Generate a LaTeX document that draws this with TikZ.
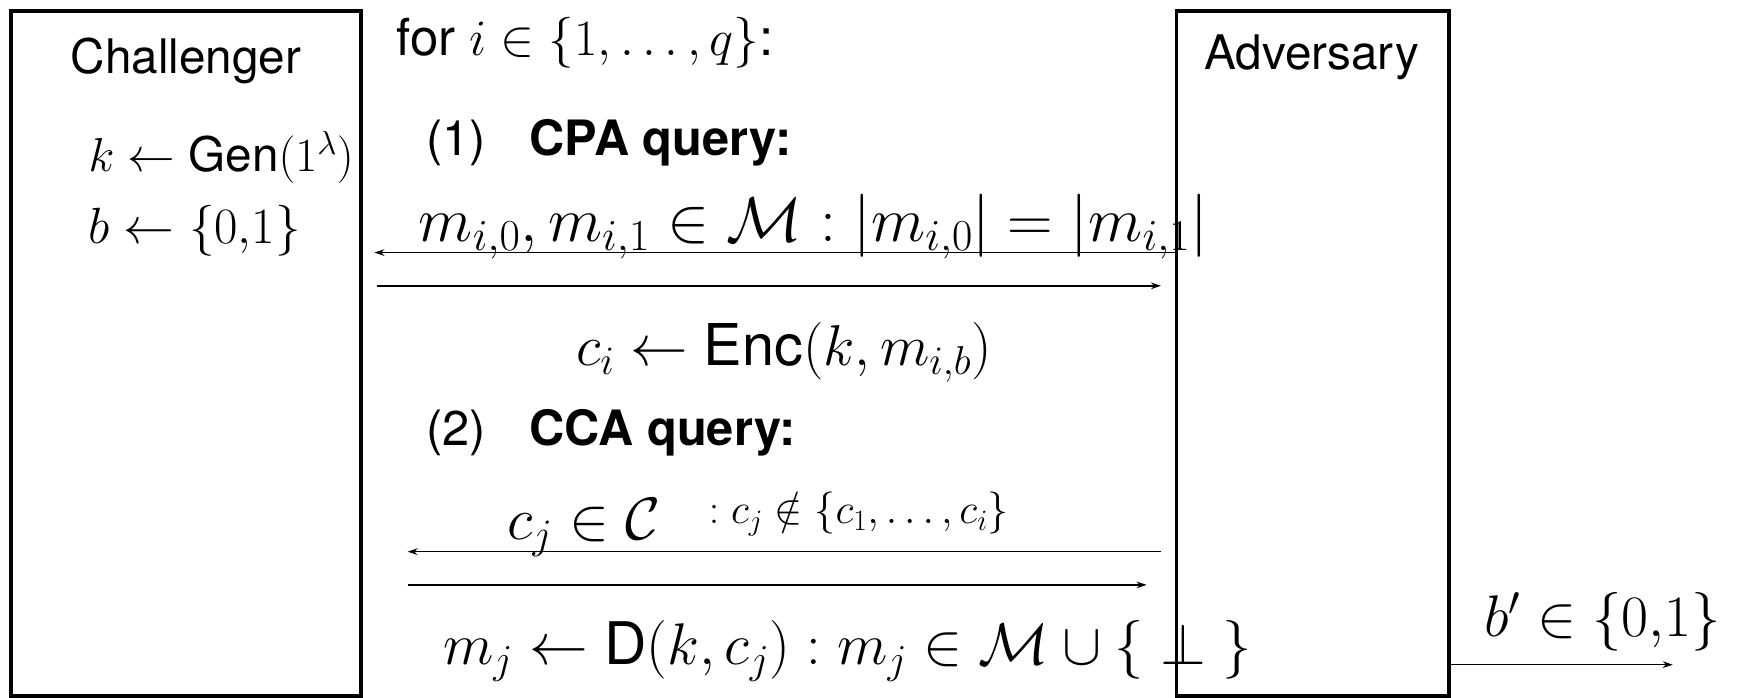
\RequirePackage{fix-cm}
\documentclass[tikz,border=0pt]{standalone}
\usepackage[no-math]{fontspec}
\setmainfont{TeX Gyre Heros}
\usetikzlibrary{arrows.meta}
\tikzset{
  partybox/.style={draw, line width=3.4pt, inner sep=0pt, outer sep=0pt},
  msg/.style={line width=1.4pt, -{Stealth[length=9pt,width=6pt]}},
  lbl/.style={inner sep=0pt, outer sep=0pt, anchor=base west},
  fs/.style={font=\fontsize{#1}{#1}\selectfont},
}
\begin{document}
\begin{tikzpicture}[x=1pt,y=-1pt]
\useasboundingbox (0,0) rectangle (1568,630);
% party boxes
\node[partybox, minimum width=316pt, minimum height=618pt] (chal) at (168,319) {};
\node[partybox, minimum width=246pt, minimum height=618pt] (adv) at (1185,319) {};
% party names and setup
\node[lbl, fs=43, anchor=base] (chalname) at (168,66) {Challenger};
\node[lbl, fs=43, anchor=base] (advname) at (1184,63) {Adversary};
\node[lbl, fs=43] (keygen) at (80,155) {$k \leftarrow \mbox{Gen}(1^{\lambda})$};
\node[lbl, fs=46] (bitgen) at (80,220) {$b \leftarrow \{0{,}1\}$};
% loop header
\node[lbl, fs=46] (loop) at (358,50) {for $i \in \{1{,}\ldots{,}\,q\}$:};
% CPA query
\node[lbl, fs=44] (one) at (385,140) {(1)};
\node[lbl, fs=44] (cpa) at (478,140) {\bfseries CPA query:};
\node[lbl, fs=57] (cpamsg) at (378,218) {$m_{i,0}, m_{i,1} \in \mathcal{M} : |m_{i,0}| = |m_{i,1}|$};
\node[lbl, fs=52] (enc) at (520,330) {$c_{i} \leftarrow \mbox{Enc}(k, m_{i,b})$};
% CCA query
\node[lbl, fs=44] (two) at (385,402) {(2)};
\node[lbl, fs=44] (cca) at (478,402) {\bfseries CCA query:};
\node[lbl, fs=54] (ccamsg) at (458,487) {$c_{j} \in \mathcal{C}$};
\node[lbl, fs=38] (ccacond) at (640,473) {$: c_{j} \notin \{c_{1}, \ldots, c_{i}\}$};
\node[lbl, fs=53] (dec) at (400,600) {$m_{j} \leftarrow \mbox{D}(k, c_{j}) : m_{j} \in \mathcal{M} \cup \{\ \bot\ \}$};
% output
\node[lbl, fs=53] (guess) at (1340,575) {$b' \in \{0{,}1\}$};
% arrow end points
\coordinate (a1e) at (338,228);
\coordinate (a2s) at (340,258);
\coordinate (a2e) at (1048,258);
\coordinate (a3s) at (1048,498);
\coordinate (a3e) at (368,498);
\coordinate (a4s) at (368,528);
\coordinate (a4e) at (1035,528);
\coordinate (a5e) at (1510,600);
% messages
\draw[msg] (adv.west |- a1e) -- (a1e);
\draw[msg] (a2s) -- (a2e);
\draw[msg] (a3s) -- (a3e);
\draw[msg] (a4s) -- (a4e);
\draw[msg] (adv.east |- a5e) -- (a5e);
\end{tikzpicture}
\end{document}
